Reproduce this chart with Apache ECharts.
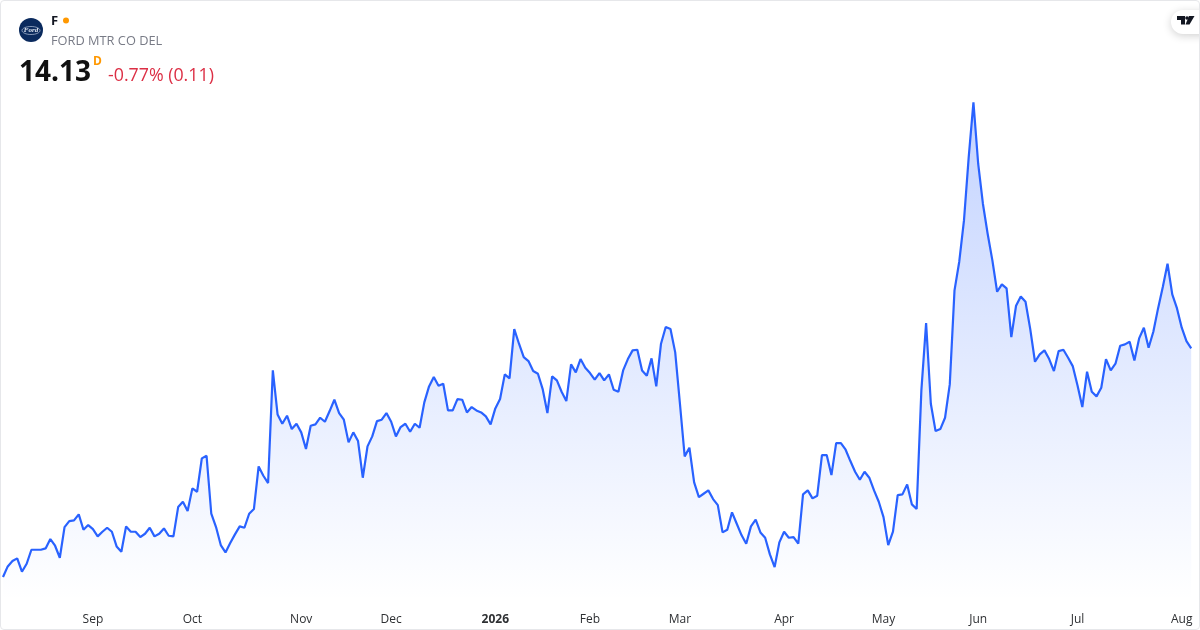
<!DOCTYPE html>
<html>
<head>
<meta charset="utf-8">
<style>
html,body{margin:0;padding:0;background:#fff;}
#frame{position:absolute;left:0;top:0;width:1198px;height:628px;border:1px solid #e6e7ea;border-radius:4px;pointer-events:none;z-index:5;}
#c{position:absolute;left:0;top:0;width:1200px;height:630px;}
</style>
<script src="https://cdn.jsdelivr.net/npm/echarts@6/dist/echarts.min.js"></script>
</head>
<body>
<div id="c"></div>
<div id="frame"></div>
<script>
const FONT = '"Open Sans","Noto Sans",sans-serif';
const symbol = 'F';
const companyName = 'FORD MTR CO DEL';
const lastPrice = '14.13';
const interval = 'D';
const changeText = '-0.77% (0.11)';
const monthLabels = ['Sep','Oct','Nov','Dec','2026','Feb','Mar','Apr','May','Jun','Jul','Aug'];
const monthStartIndex = [19,40,63,82,104,124,143,165,186,206,227,249];
const prices = [
10.70,10.86,10.94,10.98,10.78,10.90,11.11,11.11,11.11,11.13,11.27,11.17,10.99,11.45,11.54,11.55,11.64,11.41,11.48,11.42,
11.31,11.38,11.44,11.38,11.16,11.08,11.46,11.38,11.38,11.30,11.35,11.44,11.31,11.35,11.43,11.32,11.31,11.75,11.83,11.69,
12.03,11.98,12.48,12.52,11.65,11.45,11.18,11.07,11.21,11.34,11.46,11.44,11.65,11.72,12.36,12.22,12.11,13.80,13.14,13.00,
13.12,12.92,13.00,12.87,12.62,12.97,12.99,13.09,13.03,13.19,13.36,13.16,13.06,12.72,12.87,12.74,12.19,12.66,12.81,13.04,
13.06,13.16,13.03,12.81,12.95,13.00,12.88,13.00,12.94,13.32,13.56,13.70,13.57,13.60,13.20,13.20,13.37,13.36,13.17,13.25,
13.20,13.17,13.11,12.99,13.23,13.37,13.74,13.68,14.42,14.20,14.00,13.94,13.79,13.75,13.52,13.16,13.71,13.65,13.48,13.34,
13.89,13.77,13.97,13.84,13.76,13.66,13.76,13.65,13.74,13.51,13.48,13.80,13.97,14.10,14.11,13.80,13.72,13.98,13.56,14.20,
14.45,14.42,14.07,13.30,12.51,12.64,12.12,11.90,11.95,12.00,11.87,11.78,11.37,11.41,11.67,11.50,11.33,11.20,11.46,11.56,
11.37,11.29,11.04,10.85,11.22,11.38,11.29,11.30,11.20,11.94,12.00,11.88,11.92,12.53,12.53,12.23,12.71,12.71,12.61,12.44,
12.28,12.16,12.28,12.19,12.00,11.83,11.60,11.18,11.38,11.93,11.94,12.09,11.79,11.72,13.50,14.51,13.30,12.89,12.92,13.09,
13.59,15.00,15.43,16.05,17.00,17.82,16.90,16.30,15.85,15.45,14.98,15.09,15.03,14.30,14.77,14.91,14.83,14.42,13.93,14.04,
14.10,13.97,13.79,14.09,14.11,13.99,13.86,13.57,13.25,13.78,13.48,13.41,13.54,13.97,13.80,13.90,14.17,14.19,14.23,13.95,
14.28,14.44,14.14,14.38,14.73,15.05,15.40,14.94,14.73,14.44,14.24,14.13
];
const categories = prices.map((_, i) => {
  const k = monthStartIndex.indexOf(i);
  return k >= 0 ? monthLabels[k] : '';
});
const chart = echarts.init(document.getElementById('c'), null, {renderer:'canvas', width:1200, height:630});
chart.setOption({
  animation:false,
  backgroundColor:'#ffffff',
  grid:{left:2.8, width:1188.4, top:90.4, height:510, containLabel:false},
  xAxis:{
    type:'category', data:categories, boundaryGap:false,
    axisLine:{show:false}, axisTick:{show:false}, splitLine:{show:false},
    axisLabel:{
      interval:0, hideOverlap:false, margin:13, color:'#2e3033', fontSize:12, fontFamily:FONT,
      formatter:v => v === '2026' ? '{b|2026}' : v,
      rich:{b:{fontWeight:'bold', fontSize:12, color:'#2e3033', fontFamily:FONT}}
    }
  },
  yAxis:{type:'value', min:10.35, max:18, show:false, splitLine:{show:false}},
  series:[{
    type:'line', data:prices, symbol:'none', smooth:false,
    lineStyle:{color:'#2962ff', width:2.2},
    itemStyle:{color:'#2962ff'},
    areaStyle:{color:new echarts.graphic.LinearGradient(0,0,0,1,[
      {offset:0,color:'rgba(41,98,255,0.4)'},
      {offset:1,color:'rgba(41,98,255,0)'}
    ])}
  }],
  graphic:{elements:[
    {type:'circle', shape:{cx:31,cy:30,r:12}, style:{fill:'#0a2a5e'}},
    {type:'ellipse', shape:{cx:31,cy:30.5,rx:9,ry:4}, style:{fill:'none',stroke:'#b9c6dd',lineWidth:0.7}},
    {type:'text', style:{x:31,y:30.5,text:'Ford',fill:'#dfe6f2',font:'italic 700 7px "Liberation Serif",serif',align:'center',verticalAlign:'middle'}},
    {type:'text', style:{x:51,y:21,text:symbol,fill:'#131722',font:'700 13px '+FONT,verticalAlign:'middle'}},
    {type:'circle', shape:{cx:66,cy:20.5,r:3}, style:{fill:'#ff9800'}},
    {type:'text', style:{x:51,y:41,text:companyName,fill:'#787b86',font:'400 12.8px '+FONT,verticalAlign:'middle'}},
    {type:'text', style:{x:19,y:73,text:lastPrice,fill:'#111111',font:'700 28px '+FONT,verticalAlign:'middle'}},
    {type:'text', style:{x:93,y:62,text:interval,fill:'#ff9800',font:'700 12px '+FONT,verticalAlign:'middle'}},
    {type:'text', style:{x:108,y:76,text:changeText,fill:'#dc2f45',font:'400 17.8px '+FONT,verticalAlign:'middle'}},
    {type:'rect', shape:{x:1171,y:10,width:45,height:24,r:[12,0,0,12]}, style:{fill:'#fff',shadowBlur:8,shadowColor:'rgba(0,0,0,0.18)',shadowOffsetY:2}},
    {type:'polygon', shape:{points:[[1177,16],[1185,16],[1185,24.5],[1181,24.5],[1181,20],[1177,20]]}, style:{fill:'#131722'}},
    {type:'polygon', shape:{points:[[1189,16],[1194.5,16],[1189.5,24.5],[1185.5,24.5]]}, style:{fill:'#131722'}},
    {type:'circle', shape:{cx:1187,cy:18,r:1.8}, style:{fill:'#131722'}}
  ]}
});
</script>
</body>
</html>
